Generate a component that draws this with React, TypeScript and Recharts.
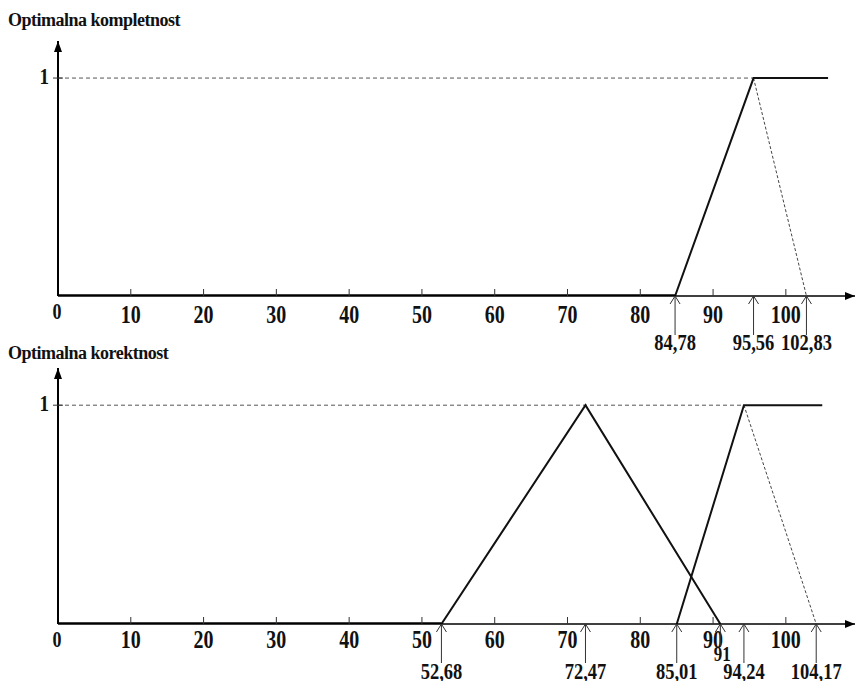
import React from "react";
import { LineChart, Line, XAxis, YAxis, ReferenceDot } from "recharts";

// x axis ticks (shared)
const majorTicks = [0, 10, 20, 30, 40, 50, 60, 70, 80, 90, 100];
const xMax = 109.5;
const yMax = 1.17;

// Optimalna kompletnost
const kompBase = [{ x: 0, y: 0 }, { x: 84.78, y: 0 }];
const kompRise = [{ x: 84.78, y: 0 }, { x: 95.56, y: 1 }, { x: 105.8, y: 1 }];
const kompFall = [{ x: 95.56, y: 1 }, { x: 102.83, y: 0 }];
const kompLevel = [{ x: 0, y: 1 }, { x: 95.56, y: 1 }];
const kompMarks = [84.78, 95.56, 102.83];

// Optimalna korektnost
const korBase = [{ x: 0, y: 0 }, { x: 52.68, y: 0 }];
const korTriangle = [{ x: 52.68, y: 0 }, { x: 72.47, y: 1 }, { x: 91, y: 0 }];
const korRise = [{ x: 85.01, y: 0 }, { x: 94.24, y: 1 }, { x: 105, y: 1 }];
const korFall = [{ x: 94.24, y: 1 }, { x: 104.17, y: 0 }];
const korLevel = [{ x: 0, y: 1 }, { x: 94.24, y: 1 }];
const korMarks = [52.68, 72.47, 85.01, 91, 94.24, 104.17];
const raisedMarks = [91];

const FONT = "'Liberation Serif', 'Times New Roman', serif";

const fmt = (v: number) => String(v).replace(".", ",");

// text stretched a bit vertically, like the scanned figure
const Label = ({ x, y, size, sy, children }: any) => (
  <text
    transform={`translate(${x},${y}) scale(1,${sy})`}
    textAnchor="middle"
    fontFamily={FONT}
    fontWeight="bold"
    fontSize={size}
    fill="#111"
  >
    {children}
  </text>
);

const makeXTick = (marks: number[], lineLen: number, labelDy: number, majorDy: number) => (props: any) => {
  const { x, y, payload } = props;
  const v = payload.value;
  if (marks.includes(v)) {
    const raised = raisedMarks.includes(v);
    const len = raised ? 23 : lineLen;
    return (
      <g>
        <line x1={x} y1={y} x2={x} y2={y + len} stroke="#333" strokeWidth={1} />
        <polyline points={`${x - 5},${y + 8} ${x},${y} ${x + 5},${y + 8}`} fill="none" stroke="#333" strokeWidth={1} />
        {raised ? (
          <Label x={x + 2} y={y + 37} size={17} sy={1.2}>
            {fmt(v)}
          </Label>
        ) : (
          <Label x={x} y={y + labelDy} size={18.5} sy={1.2}>
            {fmt(v)}
          </Label>
        )}
      </g>
    );
  }
  if (v === 0) {
    return (
      <Label x={x - 1} y={y + 23} size={18} sy={1.25}>
        0
      </Label>
    );
  }
  return (
    <g>
      <line x1={x} y1={y - 7} x2={x} y2={y} stroke="#333" strokeWidth={1} />
      <Label x={x} y={y + majorDy} size={20} sy={1.3}>
        {v}
      </Label>
    </g>
  );
};

const YTick = (props: any) => {
  const { x, y, payload } = props;
  return (
    <g>
      <line x1={x - 5} y1={y} x2={x + 5} y2={y} stroke="#333" strokeWidth={1} />
      <text
        transform={`translate(${x - 9},${y + 6}) scale(1,1.25)`}
        textAnchor="end"
        fontFamily={FONT}
        fontWeight="bold"
        fontSize={19}
        fill="#111"
      >
        {payload.value}
      </text>
    </g>
  );
};

const ArrowRight = (p: any) => (
  <polygon points={`${p.cx},${p.cy} ${p.cx - 10},${p.cy - 4} ${p.cx - 10},${p.cy + 4}`} fill="#000" />
);
const ArrowUp = (p: any) => (
  <polygon points={`${p.cx},${p.cy} ${p.cx - 4},${p.cy + 11} ${p.cx + 4},${p.cy + 11}`} fill="#000" />
);

interface PanelProps {
  height: number;
  top: number;
  xAxisHeight: number;
  base: { x: number; y: number }[];
  shapes: { x: number; y: number }[][];
  fall: { x: number; y: number }[];
  level: { x: number; y: number }[];
  marks: number[];
  lineLen: number;
  labelDy: number;
  majorDy: number;
}

function Panel({ height, top, xAxisHeight, base, shapes, fall, level, marks, lineLen, labelDy, majorDy }: PanelProps) {
  const ticks = [...majorTicks, ...marks].sort((a, b) => a - b);
  return (
    <LineChart width={857} height={height} margin={{ top, right: 2, left: 0, bottom: 0 }}>
      <XAxis
        type="number"
        dataKey="x"
        domain={[0, xMax]}
        ticks={ticks}
        interval={0}
        tickSize={0}
        tickMargin={0}
        tickLine={false}
        height={xAxisHeight}
        axisLine={{ stroke: "#000", strokeWidth: 1.5 }}
        tick={makeXTick(marks, lineLen, labelDy, majorDy)}
        allowDataOverflow
      />
      <YAxis
        type="number"
        dataKey="y"
        domain={[0, yMax]}
        ticks={[1]}
        width={58}
        tickSize={0}
        tickMargin={0}
        tickLine={false}
        axisLine={{ stroke: "#000", strokeWidth: 2 }}
        tick={<YTick />}
        allowDataOverflow
      />
      <Line data={level} dataKey="y" stroke="#555" strokeWidth={1} strokeDasharray="4 3" dot={false} isAnimationActive={false} />
      <Line data={fall} dataKey="y" stroke="#444" strokeWidth={1} strokeDasharray="3 2" dot={false} isAnimationActive={false} />
      <Line data={base} dataKey="y" stroke="#000" strokeWidth={3.5} dot={false} isAnimationActive={false} />
      {shapes.map((s, i) => (
        <Line key={i} data={s} dataKey="y" stroke="#111" strokeWidth={2} dot={false} isAnimationActive={false} />
      ))}
      <ReferenceDot x={xMax} y={0} ifOverflow="visible" shape={ArrowRight} />
      <ReferenceDot x={0} y={yMax} ifOverflow="visible" shape={ArrowUp} />
    </LineChart>
  );
}

const titleStyle: React.CSSProperties = {
  position: "absolute",
  left: 8,
  fontFamily: FONT,
  fontWeight: "bold",
  fontSize: 18,
  letterSpacing: -0.5,
  lineHeight: "20px",
  color: "#111",
  whiteSpace: "nowrap",
};

export default function App() {
  return (
    <div style={{ position: "absolute", left: 0, top: 0, width: 857, height: 681, background: "#fff", overflow: "hidden" }}>
      <div style={{ position: "absolute", left: 0, top: 0 }}>
        <Panel
          height={360}
          top={41}
          xAxisHeight={64}
          base={kompBase}
          shapes={[kompRise]}
          fall={kompFall}
          level={kompLevel}
          marks={kompMarks}
          lineLen={39}
          labelDy={54}
          majorDy={27}
        />
      </div>
      <div style={{ position: "absolute", left: 0, top: 330 }}>
        <Panel
          height={351}
          top={38}
          xAxisHeight={57}
          base={korBase}
          shapes={[korTriangle, korRise]}
          fall={korFall}
          level={korLevel}
          marks={korMarks}
          lineLen={39}
          labelDy={55}
          majorDy={24}
        />
      </div>
      <div style={{ ...titleStyle, top: 10 }}>Optimalna kompletnost</div>
      <div style={{ ...titleStyle, top: 343 }}>Optimalna korektnost</div>
    </div>
  );
}
